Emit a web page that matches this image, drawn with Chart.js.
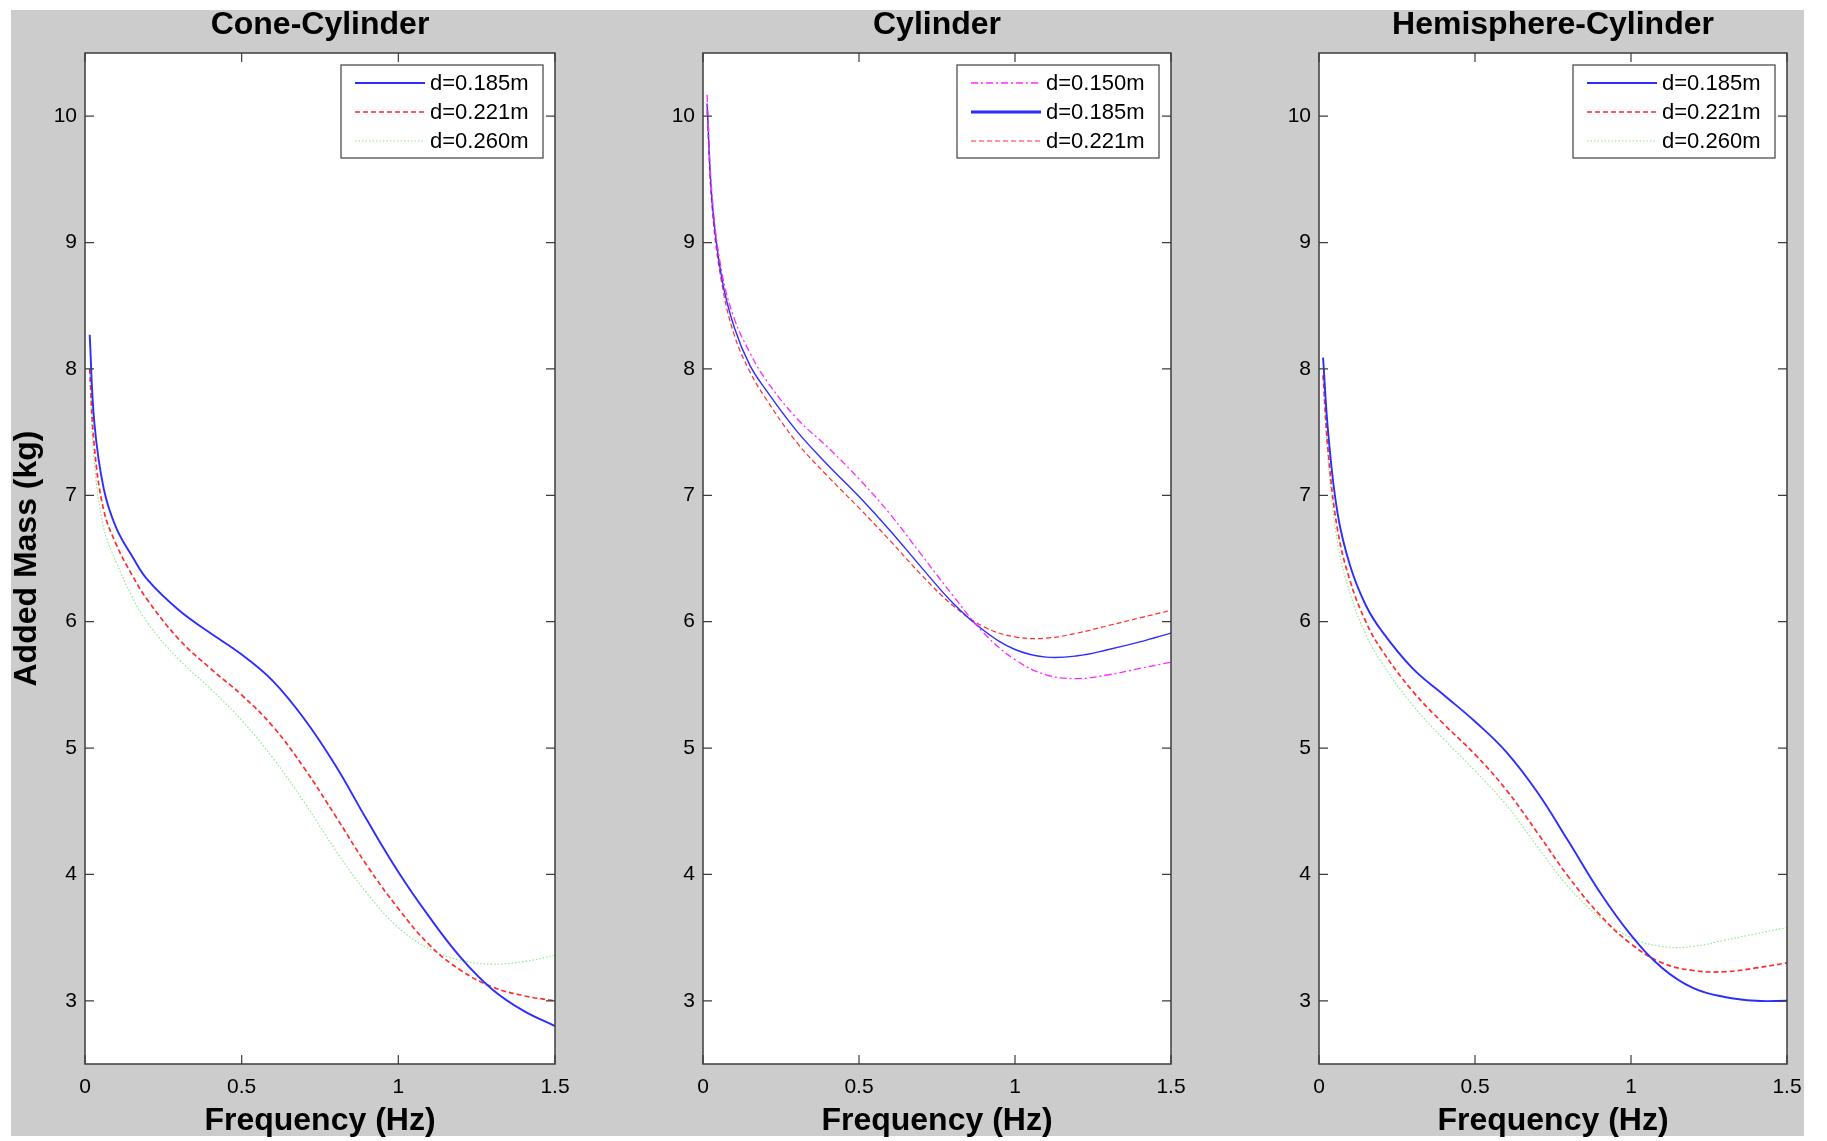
<!DOCTYPE html>
<html>
<head>
<meta charset="utf-8">
<title>Added Mass vs Frequency</title>
<script src="https://cdn.jsdelivr.net/npm/chart.js@4.4.1/dist/chart.umd.min.js"></script>
<style>
  html, body { margin: 0; padding: 0; background: #ffffff; }
  body { width: 1827px; height: 1141px; position: relative; overflow: hidden; }
  #figure-bg { position: absolute; left: 11px; top: 10px; width: 1793px; height: 1126px; background: #cccccc; }
  .panel { position: absolute; top: 0; }
</style>
</head>
<body>
<div id="figure-bg"></div>
<canvas id="cone" class="panel" style="left:0px" width="640" height="1141"></canvas>
<canvas id="cyl" class="panel" style="left:640px" width="600" height="1141"></canvas>
<canvas id="hemi" class="panel" style="left:1240px" width="587" height="1141"></canvas>

<script>
// ---- Frequencies (Hz) at which added mass was sampled ----
const freqCone = [0.015, 0.03, 0.06, 0.1, 0.15, 0.2, 0.3, 0.4, 0.5, 0.6, 0.7, 0.8, 0.9, 1.0, 1.1, 1.2, 1.3, 1.4, 1.5];
const freqCyl  = [0.013, 0.03, 0.06, 0.1, 0.15, 0.2, 0.3, 0.4, 0.5, 0.6, 0.7, 0.8, 0.9, 1.0, 1.1, 1.2, 1.3, 1.4, 1.5];
const freqHemi = [0.013, 0.03, 0.06, 0.1, 0.15, 0.2, 0.3, 0.4, 0.5, 0.6, 0.7, 0.8, 0.9, 1.0, 1.1, 1.2, 1.3, 1.4, 1.5];

// ---- Added mass (kg), Cone-Cylinder ----
const coneD185 = [8.27, 7.57, 7.05, 6.74, 6.52, 6.33, 6.09, 5.91, 5.74, 5.53, 5.23, 4.86, 4.43, 4.02, 3.66, 3.34, 3.09, 2.92, 2.80];
const coneD221 = [8.00, 7.38, 6.88, 6.61, 6.37, 6.17, 5.86, 5.63, 5.42, 5.17, 4.84, 4.46, 4.07, 3.73, 3.44, 3.24, 3.11, 3.04, 3.00];
const coneD260 = [7.95, 7.25, 6.74, 6.47, 6.20, 5.99, 5.70, 5.47, 5.22, 4.92, 4.57, 4.19, 3.85, 3.58, 3.41, 3.32, 3.29, 3.31, 3.36];

// ---- Added mass (kg), Cylinder ----
const cylD150 = [10.17, 9.35, 8.77, 8.40, 8.13, 7.92, 7.61, 7.38, 7.13, 6.85, 6.53, 6.21, 5.91, 5.70, 5.58, 5.55, 5.58, 5.63, 5.68];
const cylD185 = [10.10, 9.30, 8.72, 8.33, 8.03, 7.84, 7.51, 7.24, 6.99, 6.72, 6.43, 6.15, 5.93, 5.78, 5.72, 5.73, 5.78, 5.84, 5.91];
const cylD221 = [10.05, 9.25, 8.68, 8.27, 7.98, 7.77, 7.42, 7.15, 6.90, 6.64, 6.37, 6.13, 5.96, 5.88, 5.87, 5.91, 5.97, 6.03, 6.09];

// ---- Added mass (kg), Hemisphere-Cylinder ----
const hemiD185 = [8.09, 7.48, 6.85, 6.44, 6.13, 5.93, 5.63, 5.42, 5.21, 4.97, 4.65, 4.26, 3.86, 3.52, 3.26, 3.10, 3.03, 3.00, 3.00];
const hemiD221 = [7.95, 7.33, 6.72, 6.32, 6.00, 5.78, 5.45, 5.19, 4.95, 4.67, 4.33, 3.98, 3.68, 3.45, 3.30, 3.24, 3.23, 3.26, 3.30];
const hemiD260 = [7.93, 7.25, 6.62, 6.22, 5.90, 5.68, 5.34, 5.07, 4.82, 4.55, 4.22, 3.90, 3.66, 3.50, 3.43, 3.43, 3.48, 3.53, 3.58];

// ---- Axis ticks ----
const xTickValues = [0, 0.5, 1, 1.5];
const xTickLabels = ['0', '0.5', '1', '1.5'];
const yTickValues = [3, 4, 5, 6, 7, 8, 9, 10];
const yTickLabels = ['3', '4', '5', '6', '7', '8', '9', '10'];

const FONT = '"Liberation Sans", Arial, Helvetica, sans-serif';

function toPoints(xs, ys) {
  return xs.map((x, i) => ({ x: x, y: ys[i] }));
}

// Line styles for each diameter
const STYLE = {
  blue:    { borderColor: 'rgb(45,45,255)',  borderWidth: 1.9, borderDash: [] },
  red:     { borderColor: 'rgb(255,45,45)',  borderWidth: 1.7, borderDash: [5, 3] },
  green:   { borderColor: 'rgba(40,225,40,0.6)', borderWidth: 1.1, borderDash: [1.5, 2] },
  magenta: { borderColor: 'rgb(255,40,255)', borderWidth: 1.3, borderDash: [7, 3, 2, 3] }
};

function dataset(label, xs, ys, style, widthOverride, legendWidth) {
  const ds = Object.assign({
    label: label,
    data: toPoints(xs, ys),
    fill: false,
    pointRadius: 0,
    tension: 0.4
  }, style);
  if (widthOverride) ds.borderWidth = widthOverride;
  ds.legendWidth = legendWidth || ds.borderWidth;
  return ds;
}

// White axes background
const plotBgPlugin = {
  id: 'plotBg',
  beforeDatasetsDraw(chart) {
    const { ctx, chartArea: a } = chart;
    ctx.save();
    ctx.fillStyle = '#ffffff';
    ctx.fillRect(a.left, a.top, a.right - a.left, a.bottom - a.top);
    ctx.restore();
  }
};

// Box frame, inward ticks on all four sides, and the boxed legend
const framePlugin = {
  id: 'matlabFrame',
  afterDatasetsDraw(chart) {
    const { ctx, chartArea: a, scales } = chart;
    const xs = scales.x, ys = scales.y;
    const L = 9;
    ctx.save();
    ctx.strokeStyle = '#3c3c3c';
    ctx.lineWidth = 1.2;
    ctx.beginPath();
    xs.ticks.forEach(t => {
      const px = xs.getPixelForValue(t.value);
      ctx.moveTo(px, a.bottom); ctx.lineTo(px, a.bottom - L);
      ctx.moveTo(px, a.top);    ctx.lineTo(px, a.top + L);
    });
    ys.ticks.forEach(t => {
      const py = ys.getPixelForValue(t.value);
      ctx.moveTo(a.left, py);  ctx.lineTo(a.left + L, py);
      ctx.moveTo(a.right, py); ctx.lineTo(a.right - L, py);
    });
    ctx.stroke();
    ctx.lineWidth = 1.5;
    ctx.strokeRect(a.left, a.top, a.right - a.left, a.bottom - a.top);

    // legend
    const bw = 202, bh = 93;
    const bx = a.right - 12 - bw, by = a.top + 12;
    ctx.fillStyle = '#ffffff';
    ctx.fillRect(bx, by, bw, bh);
    ctx.strokeStyle = '#404040';
    ctx.lineWidth = 1.2;
    ctx.strokeRect(bx, by, bw, bh);
    ctx.font = '22px ' + FONT;
    ctx.textBaseline = 'middle';
    ctx.textAlign = 'left';
    chart.data.datasets.forEach((ds, i) => {
      const ry = by + 18 + i * 29;
      ctx.save();
      ctx.strokeStyle = ds.borderColor;
      ctx.lineWidth = ds.legendWidth;
      ctx.setLineDash(ds.borderDash || []);
      ctx.beginPath();
      ctx.moveTo(bx + 14, ry);
      ctx.lineTo(bx + 84, ry);
      ctx.stroke();
      ctx.restore();
      ctx.fillStyle = '#000000';
      ctx.fillText(ds.label, bx + 89, ry + 1);
    });
    ctx.restore();
  }
};

function makePanel(id, title, datasets, yWidth, padRight, showYTitle) {
  return new Chart(document.getElementById(id), {
    type: 'line',
    data: { datasets: datasets },
    options: {
      responsive: false,
      animation: false,
      devicePixelRatio: 1,
      layout: { padding: { left: 0, right: padRight, top: 0, bottom: 0 } },
      plugins: {
        legend: { display: false },
        tooltip: { enabled: false },
        title: {
          display: true,
          text: title,
          fullSize: false,
          color: '#000000',
          font: { family: FONT, size: 32, weight: 'bold', lineHeight: 1.2 },
          padding: { top: 6.4, bottom: 8.2 }
        }
      },
      scales: {
        x: {
          type: 'linear',
          min: 0,
          max: 1.5,
          afterBuildTicks: s => { s.ticks = xTickValues.map(v => ({ value: v })); },
          afterFit: s => { s.height = 77; },
          grid: { display: false, drawTicks: false },
          border: { display: false },
          ticks: {
            padding: 11,
            color: '#000000',
            autoSkip: false,
            maxRotation: 0,
            font: { family: FONT, size: 21 },
            callback: (v, i) => xTickLabels[i]
          },
          title: {
            display: true,
            text: 'Frequency (Hz)',
            color: '#000000',
            font: { family: FONT, size: 32, weight: 'bold', lineHeight: 1.2 },
            padding: { top: 0, bottom: 0.5 }
          }
        },
        y: {
          type: 'linear',
          min: 2.5,
          max: 10.5,
          afterBuildTicks: s => { s.ticks = yTickValues.map(v => ({ value: v })); },
          afterFit: s => { s.width = yWidth; },
          grid: { display: false, drawTicks: false },
          border: { display: false },
          ticks: {
            padding: 8,
            color: '#000000',
            autoSkip: false,
            font: { family: FONT, size: 21 },
            callback: (v, i) => yTickLabels[i]
          },
          title: {
            display: showYTitle,
            text: 'Added Mass (kg)',
            color: '#000000',
            font: { family: FONT, size: 32, weight: 'bold', lineHeight: 1.2 },
            padding: { top: 8, bottom: 0 }
          }
        }
      }
    },
    plugins: [plotBgPlugin, framePlugin]
  });
}

makePanel('cone', 'Cone-Cylinder', [
  dataset('d=0.185m', freqCone, coneD185, STYLE.blue),
  dataset('d=0.221m', freqCone, coneD221, STYLE.red),
  dataset('d=0.260m', freqCone, coneD260, STYLE.green)
], 85, 85, true);

makePanel('cyl', 'Cylinder', [
  dataset('d=0.150m', freqCyl, cylD150, STYLE.magenta),
  dataset('d=0.185m', freqCyl, cylD185, STYLE.blue, 1.4, 3),
  dataset('d=0.221m', freqCyl, cylD221, STYLE.red, 1.2)
], 63, 69, false);

makePanel('hemi', 'Hemisphere-Cylinder', [
  dataset('d=0.185m', freqHemi, hemiD185, STYLE.blue),
  dataset('d=0.221m', freqHemi, hemiD221, STYLE.red),
  dataset('d=0.260m', freqHemi, hemiD260, STYLE.green)
], 79, 40, false);
</script>
</body>
</html>
